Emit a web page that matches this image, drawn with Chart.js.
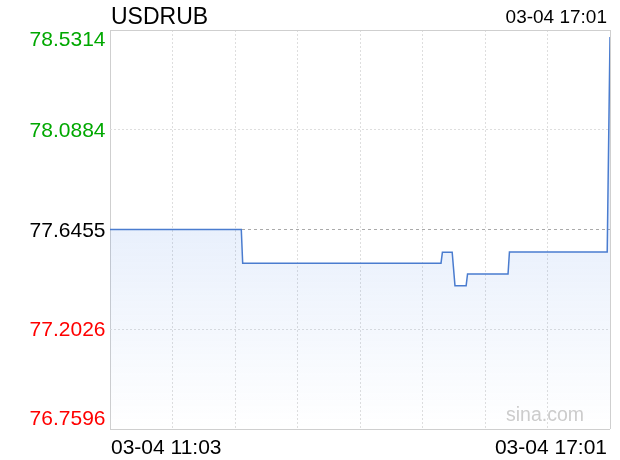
<!DOCTYPE html>
<html>
<head>
<meta charset="utf-8">
<script src="https://cdn.jsdelivr.net/npm/chart.js@4.4.1/dist/chart.umd.min.js"></script>
<style>
  body { margin: 0; background: #fff; }
  canvas { display: block; }
</style>
</head>
<body>
<canvas id="fxChart" width="620" height="460"></canvas>
<script>
// USDRUB intraday, 03-04
const symbol = 'USDRUB';
const date = '03-04';
const startTime = '11:03';
const endTime = '17:01';
const prevClose = 77.6455;

// only the minutes where the price changes (line is straight in between)
const times = ['11:03', '12:37', '12:38', '15:00', '15:01', '15:08', '15:10',
               '15:18', '15:19', '15:48', '15:49', '16:59', '17:01'];
const prices = [77.6455, 77.6455, 77.4960, 77.4960, 77.5443, 77.5443, 77.3961,
                77.3961, 77.4481, 77.4481, 77.5461, 77.5461, 78.5000];

const yTicks = [76.7596, 77.2026, 77.6455, 78.0884, 78.5314];

function toMin(t) {
    const p = t.split(':');
    return (+p[0]) * 60 + (+p[1]);
}
const t0 = toMin(startTime);
const span = toMin(endTime) - t0;

const points = times.map(function (t, i) {
    return { x: toMin(t) - t0, y: prices[i] };
});

const textPlugin = {
    id: 'sinaText',
    afterDraw: function (chart) {
        const ctx = chart.ctx;
        const area = chart.chartArea;
        const ys = chart.scales.y;
        const font = '"Liberation Sans", Arial, Helvetica, sans-serif';
        ctx.save();
        ctx.textBaseline = 'alphabetic';

        ctx.fillStyle = '#000';
        ctx.font = '23px ' + font;
        ctx.textAlign = 'left';
        ctx.fillText(symbol, area.left + 1, 24);

        ctx.font = '19px ' + font;
        ctx.textAlign = 'right';
        ctx.fillText(date + ' ' + endTime, area.right - 3, 23);

        // price labels
        ctx.font = '21px ' + font;
        ctx.textAlign = 'right';
        yTicks.forEach(function (v, i) {
            const py = ys.getPixelForValue(v);
            let base = py + 7;
            if (i === 0) base = py - 4;
            if (i === yTicks.length - 1) base = py + 16;
            ctx.fillStyle = v > prevClose ? '#00a800' : (v < prevClose ? '#f00' : '#000');
            ctx.fillText(v.toFixed(4), area.left - 4.5, base);
        });

        // time labels
        ctx.fillStyle = '#000';
        ctx.textAlign = 'left';
        ctx.fillText(date + ' ' + startTime, area.left + 1, 454);
        ctx.textAlign = 'right';
        ctx.fillText(date + ' ' + endTime, area.right - 3, 454);

        // watermark
        ctx.fillStyle = '#ccc';
        ctx.font = '19.5px ' + font;
        ctx.fillText('sina.com', area.right - 26, 421);
        ctx.restore();
    }
};

new Chart(document.getElementById('fxChart'), {
    type: 'line',
    data: {
        datasets: [{
            data: points,
            borderColor: '#4a7ccf',
            borderWidth: 1.5,
            pointRadius: 0,
            tension: 0,
            fill: 'start',
            backgroundColor: function (context) {
                const area = context.chart.chartArea;
                if (!area) return 'rgba(70,130,230,0.12)';
                const g = context.chart.ctx.createLinearGradient(0, area.top, 0, area.bottom);
                g.addColorStop(0, 'rgba(70,130,230,0.24)');
                g.addColorStop(1, 'rgba(70,130,230,0)');
                return g;
            }
        }]
    },
    options: {
        responsive: false,
        animation: false,
        devicePixelRatio: 1,
        layout: { padding: { left: 110, right: 10, top: 30, bottom: 31 } },
        plugins: {
            legend: { display: false },
            tooltip: { enabled: false }
        },
        scales: {
            x: {
                type: 'linear',
                min: 0,
                max: span,
                afterBuildTicks: function (axis) {
                    const t = [];
                    for (let k = 0; k <= 8; k++) t.push({ value: span * k / 8 });
                    axis.ticks = t;
                },
                ticks: { display: false },
                border: {
                    display: false,
                    dash: function (c) { return (c.index === 0 || c.index === 8) ? [] : [2, 2]; }
                },
                grid: {
                    drawTicks: false,
                    color: function (c) { return (c.index === 0 || c.index === 8) ? '#cfcfcf' : '#dedede'; }
                }
            },
            y: {
                min: yTicks[0],
                max: yTicks[yTicks.length - 1],
                afterBuildTicks: function (axis) {
                    axis.ticks = yTicks.map(function (v) { return { value: v }; });
                },
                ticks: { display: false },
                border: {
                    display: false,
                    dash: function (c) {
                        if (c.index === 0 || c.index === 4) return [];
                        if (c.index === 2) return [3, 3];
                        return [2, 2];
                    }
                },
                grid: {
                    drawTicks: false,
                    color: function (c) {
                        if (c.index === 0 || c.index === 4) return '#cfcfcf';
                        if (c.index === 2) return '#aaa';
                        return '#dedede';
                    }
                }
            }
        }
    },
    plugins: [textPlugin]
});
</script>
</body>
</html>
